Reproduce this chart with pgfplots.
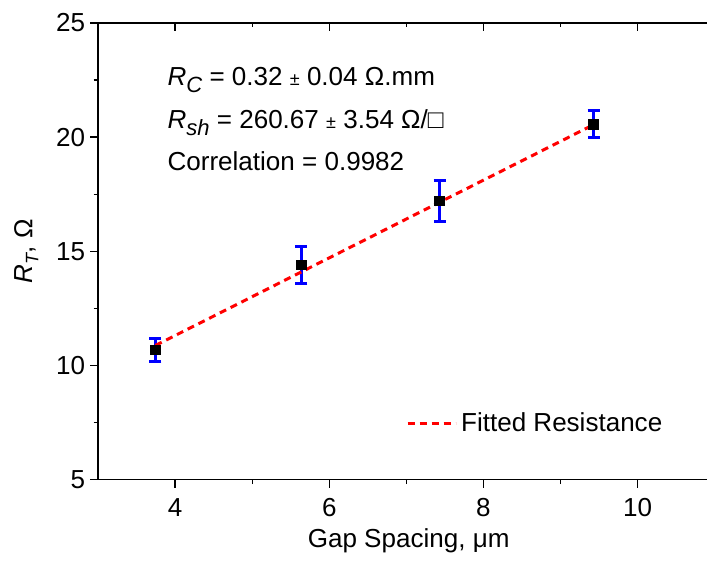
\documentclass[border=0pt]{standalone}
\usepackage{fontspec}
\setmainfont{Liberation Sans}
\usepackage{pgfplots}
\usepackage{pgfplotstable}
\pgfplotsset{compat=1.18}
\newcommand{\fs}{\fontsize{13}{15.6}\selectfont}

\pgfplotstableread{
x      y      e
3.744  10.69  0.50
5.636  14.40  0.80
7.43   17.21  0.90
9.43   20.57  0.60
}\rtdata

\begin{document}
\begin{tikzpicture}
\pgfplotsset{
  common/.style={
    width=304pt, height=228pt, scale only axis,
    xmin=3, xmax=10.9, ymin=5, ymax=25,
    xtick={4,6,8,10}, ytick={5,10,15,20,25},
    minor x tick num=1, minor y tick num=1,
    major tick length=4pt, minor tick length=2.2pt,
    every tick/.style={black, line width=0.75pt},
    axis line style={line width=0.75pt},
  }
}
% top spine, ticks pointing inward
\begin{axis}[common,
  axis x line*=top, axis y line=none,
  tick align=inside, xticklabels={}, yticklabels={}]
\end{axis}

\begin{axis}[common,
  axis x line*=bottom, axis y line*=left,
  tick align=outside,
  /pgf/number format/assume math mode=true,
  tick label style={font=\fs},
  xticklabel style={yshift=-2pt},
  yticklabel style={xshift=1pt},
  xlabel={Gap Spacing, μm},
  xlabel style={font=\fs, at={(axis description cs:0.51,0)}, anchor=center, yshift=-30.5pt},
  ylabel={{\itshape R}\raisebox{-0.45ex}{\fontsize{9}{9}\selectfont\itshape T}, Ω},
  ylabel style={font=\fs, at={(axis description cs:-0.118,0.5)}, anchor=center},
  legend style={draw=none, fill=none, at={(axis cs:6.99,7.46)}, anchor=west,
    inner sep=0pt, font=\fs},
  legend image code/.code={\draw[#1] (-1.5pt,0pt) -- (22.5pt,0pt);},
  clip=false,
]
\addplot[forget plot, only marks, mark=square*, mark size=2.4pt, black,
  mark options={line width=0.4pt},
  error bars/.cd, y dir=both, y explicit,
  error bar style={blue, line width=1.5pt},
  error mark=-,
  error mark options={rotate=90, blue, line width=1.5pt, mark size=3pt}]
  table[x=x, y=y, y error=e] {\rtdata};
\addplot[red, line width=1.5pt, dash pattern=on 3.5pt off 2.5pt]
  coordinates {(3.744,10.88) (9.43,20.55)};
\addlegendentry{Fitted Resistance}

\node[anchor=base west, inner sep=0pt, font=\fs] at (axis cs:3.896,22.28)
  {{\itshape R}\raisebox{-0.5ex}{\fontsize{11}{11}\selectfont\itshape C} = 0.32 {\fontsize{9}{9}\selectfont ±} 0.04 Ω.mm};
\node[anchor=base west, inner sep=0pt, font=\fs] at (axis cs:3.896,20.39)
  {{\itshape R}\raisebox{-0.5ex}{\fontsize{11}{11}\selectfont\itshape sh} = 260.67 {\fontsize{9}{9}\selectfont ±} 3.54 Ω/□};
\node[anchor=base west, inner sep=0pt, font=\fs] at (axis cs:3.896,18.55)
  {Correlation = 0.9982};
\end{axis}
\pgfresetboundingbox
\path[use as bounding box] (-49pt,-43.5pt) rectangle (304pt,239.5pt);
\end{tikzpicture}
\end{document}
